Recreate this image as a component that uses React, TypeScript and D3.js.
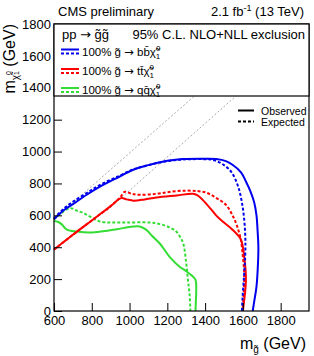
import React, { useEffect, useRef } from 'react';
import * as d3 from 'd3';

// axis ticks
const xTicks = [600, 800, 1000, 1200, 1400, 1600, 1800];
const yTicks = [0, 200, 400, 600, 800, 1000, 1200, 1400, 1600, 1800];

// exclusion contours [m_gluino, m_lsp] in GeV
const bbObs = [[600,575],[650,630],[700,670],[773,729],[850,785],[950,845],[1019,886],[1100,915],[1142,928],[1200,942],[1282,953],[1400,955],[1458,953],[1510,940],[1545,917],[1590,870],[1616,812],[1640,750],[1660,680],[1672,600],[1678,500],[1682,400],[1680,300],[1672,153],[1660,60],[1652,0]];
const bbExp = [[600,580],[650,640],[700,685],[773,740],[850,795],[950,850],[1019,888],[1100,915],[1200,940],[1282,950],[1400,952],[1450,945],[1500,915],[1540,870],[1575,780],[1595,680],[1608,560],[1613,450],[1612,340],[1605,200],[1598,80],[1595,0]];
const ttObs = [[600,385],[700,478],[800,568],[900,658],[955,708],[985,700],[1020,692],[1080,700],[1142,712],[1250,725],[1335,735],[1360,725],[1387,697],[1430,640],[1458,600],[1493,561],[1545,510],[1589,450],[1600,400],[1607,341],[1614,260],[1616,195],[1612,120],[1607,69],[1600,0]];
const ttExp = [[600,385],[700,478],[800,568],[900,658],[950,712],[975,748],[1010,735],[1054,729],[1142,735],[1220,748],[1300,755],[1360,752],[1405,743],[1458,710],[1511,665],[1545,600],[1570,530],[1589,446],[1600,340],[1607,237],[1605,120],[1598,0]];
const qqObs = [[600,565],[620,560],[640,545],[668,510],[721,498],[791,492],[860,500],[932,513],[1019,530],[1054,530],[1089,509],[1120,470],[1159,425],[1212,340],[1265,278],[1300,250],[1326,226],[1349,195],[1353,132],[1351,60],[1349,0]];
const qqExp = [[600,575],[640,615],[686,645],[720,630],[756,614],[800,585],[844,561],[900,555],[984,555],[1108,555],[1159,546],[1210,525],[1247,498],[1270,460],[1285,420],[1300,300],[1309,195],[1318,100],[1322,0]];

// kinematic diagonals
const diagA = [[600,575],[1345,1350]];
const diagB = [[880,630],[1565,1350]];

const font = "'Liberation Sans', Arial, Helvetica, sans-serif";
const arrowFont = "'DejaVu Sans', sans-serif";

const App = () => {
  const ref = useRef<SVGSVGElement>(null);

  useEffect(() => {
    const svg = d3.select(ref.current);
    svg.select('#plot').selectAll('*').remove();
    const g = svg.select('#plot');

    const x = d3.scaleLinear().domain([600, 1950]).range([54, 309]);
    const y = d3.scaleLinear().domain([0, 1800]).range([311, 24]);

    const line = d3.line<number[]>()
      .x(d => x(d[0]))
      .y(d => y(d[1]))
      .curve(d3.curveCatmullRom.alpha(0.5));

    [diagA, diagB].forEach(d => {
      g.append('path')
        .attr('d', d3.line<number[]>().x(p => x(p[0])).y(p => y(p[1]))(d))
        .attr('fill', 'none')
        .attr('stroke', '#aaaaaa')
        .attr('stroke-width', 1)
        .attr('stroke-dasharray', '2,2');
    });

    const curves = [
      { d: qqExp, c: '#33dd33', dash: true },
      { d: qqObs, c: '#33dd33', dash: false },
      { d: ttExp, c: '#ff0000', dash: true },
      { d: ttObs, c: '#ff0000', dash: false },
      { d: bbExp, c: '#0000ee', dash: true },
      { d: bbObs, c: '#0000ee', dash: false },
    ];
    curves.forEach(cv => {
      g.append('path')
        .attr('d', line(cv.d))
        .attr('fill', 'none')
        .attr('stroke', cv.c)
        .attr('stroke-width', 2)
        .attr('stroke-dasharray', cv.dash ? '3,2' : null);
    });

    // axes with inward ticks
    const xAxis = g.append('g').attr('transform', 'translate(0,311)');
    xAxis.call(d3.axisBottom(x).tickValues(d3.range(600, 1951, 50)).tickSize(-4).tickFormat(() => ''));
    xAxis.call(d3.axisBottom(x).tickValues(xTicks).tickSize(-8).tickPadding(5).tickFormat(d3.format('d')));
    const yAxis = g.append('g').attr('transform', 'translate(54,0)');
    yAxis.call(d3.axisLeft(y).tickValues(d3.range(0, 1801, 50)).tickSize(-4).tickFormat(() => ''));
    yAxis.call(d3.axisLeft(y).tickValues(yTicks).tickSize(-8).tickPadding(3).tickFormat(d3.format('d')));
    g.selectAll('.domain').remove();
    g.selectAll('.tick line').attr('stroke', '#000');
    g.selectAll('.tick text').attr('font-size', 13).attr('font-family', font).attr('fill', '#000');
  }, []);

  return (
    <svg ref={ref} width={314} height={356} style={{ position: 'absolute', left: 0, top: 0, background: '#fff' }} fontFamily={font}>
      <rect x={0} y={0} width={314} height={356} fill="#fff" />
      <g id="plot" />
      <rect x={54} y={24} width={255} height={287} fill="none" stroke="#000" strokeWidth={1.2} />

      {/* top legend box */}
      <rect x={54} y={24} width={255} height={72} fill="#fff" stroke="#000" strokeWidth={1.2} />
      <text x={62} y={38.5} fontSize={13}>pp <tspan fontFamily={arrowFont}>→</tspan> g̃g̃</text>
      <text x={305} y={38.5} fontSize={13} textAnchor="end">95% C.L. NLO+NLL exclusion</text>

      {[
        { c: '#0000ee', y: 49.5, t: 'bb̄' },
        { c: '#ff0000', y: 69, t: 'tt̄' },
        { c: '#33dd33', y: 88, t: 'qq̄' },
      ].map((e, i) => (
        <g key={i}>
          <line x1={61} x2={79} y1={e.y} y2={e.y} stroke={e.c} strokeWidth={2} />
          <line x1={61} x2={79} y1={e.y + 4} y2={e.y + 4} stroke={e.c} strokeWidth={2} strokeDasharray="3,2" />
          <text x={82} y={e.y + 6} fontSize={11.5}>
            100% g̃ <tspan fontFamily={arrowFont}>→</tspan> {e.t}χ̃
            <tspan dy={-5} fontSize={8}>0</tspan>
            <tspan dy={8} dx={-4.5} fontSize={8}>1</tspan>
          </text>
        </g>
      ))}

      {/* observed / expected */}
      <line x1={238} x2={254} y1={110.5} y2={110.5} stroke="#000" strokeWidth={2} />
      <text x={261} y={114.5} fontSize={10.5}>Observed</text>
      <line x1={238} x2={254} y1={121.5} y2={121.5} stroke="#000" strokeWidth={2} strokeDasharray="3,2" />
      <text x={261} y={125.5} fontSize={10.5}>Expected</text>

      {/* header */}
      <text x={58} y={16} fontSize={13}>CMS preliminary</text>
      <text x={304} y={16} fontSize={13} textAnchor="end">
        2.1 fb<tspan dy={-5} fontSize={9}>-1</tspan><tspan dy={5}> (13 TeV)</tspan>
      </text>

      {/* axis titles */}
      <text x={306} y={349} fontSize={16} textAnchor="end">
        m<tspan dy={4} fontSize={10}>g̃</tspan><tspan dy={-4}> (GeV)</tspan>
      </text>
      <text transform="translate(15,24) rotate(-90)" fontSize={16} textAnchor="end">
        m<tspan dy={4} fontSize={10}>χ̃</tspan>
        <tspan dy={-8} fontSize={7}>0</tspan>
        <tspan dy={8} dx={-4} fontSize={7}>1</tspan>
        <tspan dy={-4}> (GeV)</tspan>
      </text>
    </svg>
  );
};

export default App;
